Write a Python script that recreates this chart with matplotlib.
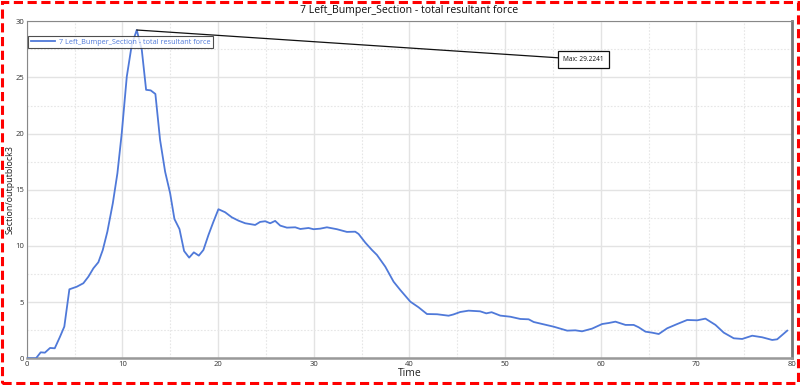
import matplotlib
matplotlib.use("Agg")
import matplotlib.pyplot as plt
from matplotlib.patches import Rectangle
from matplotlib.ticker import MultipleLocator

title = "7 Left_Bumper_Section - total resultant force"
series_label = "7 Left_Bumper_Section - total resultant force"
x_label = "Time"
y_label = "Section/outputblock3"
max_label = "Max: 29.2241"

time = [0.0, 0.97, 1.46, 1.9, 2.44, 2.93, 3.48, 3.93, 4.46, 5.23, 5.92, 6.45, 6.97, 7.49,
        7.95, 8.43, 9.0, 9.48, 9.93, 10.46, 10.98, 11.5, 12.03, 12.48, 12.96, 13.45, 13.94,
        14.47, 14.99, 15.44, 15.97, 16.45, 16.98, 17.47, 17.99, 18.47, 19.0, 19.52, 20.04,
        20.74, 21.44, 22.14, 22.84, 23.88, 24.4, 24.93, 25.45, 25.97, 26.5, 27.2, 28.07,
        28.6, 29.46, 29.98, 30.68, 31.38, 32.43, 33.47, 34.34, 34.69, 35.39, 36.09, 36.61,
        37.48, 38.35, 39.05, 40.1, 40.96, 41.84, 42.9, 44.1, 44.6, 45.32, 46.19, 47.4,
        48.04, 48.6, 49.5, 50.55, 51.6, 52.47, 53.0, 54.0, 55.1, 56.5, 57.35, 58.05, 59.1,
        60.15, 60.84, 61.54, 62.59, 63.45, 63.97, 64.68, 65.38, 66.07, 66.95, 68.0, 69.04,
        70.09, 70.95, 72.0, 72.87, 73.91, 74.79, 75.84, 76.88, 77.93, 78.45, 79.5]
force = [0.0, 0.0, 0.53, 0.5, 0.92, 0.89, 1.92, 2.82, 6.14, 6.37, 6.68, 7.27, 8.01, 8.55,
         9.64, 11.27, 13.8, 16.47, 20.0, 25.07, 27.9, 29.2241, 27.45, 23.9, 23.85, 23.53, 19.44,
         16.6, 14.7, 12.4, 11.5, 9.55, 8.96, 9.43, 9.14, 9.64, 10.98, 12.16, 13.27,
         13.0, 12.55, 12.25, 12.02, 11.87, 12.14, 12.2, 12.02, 12.23, 11.81, 11.63, 11.66,
         11.51, 11.6, 11.49, 11.54, 11.66, 11.49, 11.25, 11.27, 11.07, 10.3, 9.64, 9.2,
         8.16, 6.82, 6.08, 5.04, 4.54, 3.94, 3.92, 3.79, 3.9, 4.12, 4.24, 4.18,
         4.0, 4.1, 3.8, 3.7, 3.5, 3.47, 3.23, 3.03, 2.81, 2.46, 2.49, 2.4, 2.64,
         3.05, 3.14, 3.26, 2.97, 2.97, 2.76, 2.37, 2.28, 2.16, 2.67, 3.05, 3.41,
         3.38, 3.53, 2.97, 2.28, 1.78, 1.72, 2.01, 1.87, 1.63, 1.69, 2.46]

plt.rcParams['font.family'] = ['Open Sans', 'DejaVu Sans']

fig = plt.figure(figsize=(8, 3.85), dpi=100)
ax = fig.add_axes([0.0334, 0.0694, 0.9566, 0.8753])

ax.plot(time, force, color='#4f79d9', lw=1.3, label=series_label, zorder=3)

ax.set_xlim(0, 80)
ax.set_ylim(0, 30)
ax.xaxis.set_major_locator(MultipleLocator(10))
ax.xaxis.set_minor_locator(MultipleLocator(5))
ax.yaxis.set_major_locator(MultipleLocator(5))
ax.yaxis.set_minor_locator(MultipleLocator(2.5))
ax.grid(which='major', color='#e3e3e3', lw=1.0, ls='-')
ax.grid(which='minor', color='#e6e6e6', lw=0.8, ls=(0, (1.5, 1.5)))
ax.set_axisbelow(True)
ax.tick_params(which='both', length=0, labelsize=5.5, labelcolor='#333333', pad=2)

for side in ['top', 'left']:
    ax.spines[side].set_color('#888888')
    ax.spines[side].set_linewidth(0.8)
ax.spines['bottom'].set_color('#999999')
ax.spines['bottom'].set_linewidth(1.8)
ax.spines['right'].set_color('#777777')
ax.spines['right'].set_linewidth(2.0)

ax.set_title(title, fontsize=7.6, color='#111111', pad=6)
ax.set_xlabel(x_label, fontsize=7.5, color='#222222', labelpad=0)
ax.set_ylabel(y_label, fontsize=6.4, color='#222222')
ax.yaxis.set_label_coords(-0.0165, 0.5)

leg = ax.legend(loc='upper left', bbox_to_anchor=(0.0, 0.96), fontsize=5.2,
                frameon=True, fancybox=False, handlelength=3.4, borderpad=0.35,
                handletextpad=0.5, borderaxespad=0.2)
leg.get_frame().set_edgecolor('#222222')
leg.get_frame().set_linewidth(0.8)
for t in leg.get_texts():
    t.set_color('#4f79d9')

imax = force.index(max(force))
ax.annotate(max_label, xy=(time[imax], force[imax]), xytext=(56.1, 26.6),
            fontsize=4.7, ha='left', va='center', color='#111111',
            bbox=dict(boxstyle='square,pad=0.75', fc='white', ec='#111111', lw=0.9),
            arrowprops=dict(arrowstyle='-', color='#111111', lw=0.9, shrinkA=0, shrinkB=0),
            zorder=5)

fig.patches.append(Rectangle((0.003, 0.005), 0.994, 0.99, transform=fig.transFigure,
                             fill=False, ec='#ff0000', lw=2.2, ls=(0, (3, 1.5))))

fig.savefig('out.png', dpi=100)
